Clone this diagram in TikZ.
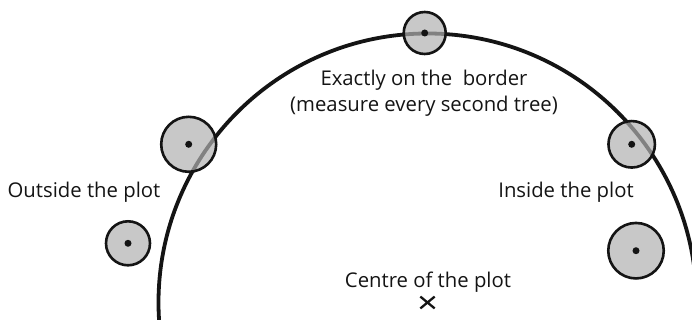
\documentclass[tikz,border=0pt]{standalone}
\usepackage{fontspec}
\setmainfont{Open Sans}
\usetikzlibrary{positioning,shapes.misc}
\definecolor{treefill}{RGB}{176,176,176}
\definecolor{inkblack}{RGB}{20,20,20}

\begin{document}
\begin{tikzpicture}[
    x=1pt, y=-1pt,
    plotline/.style   = {draw=inkblack, line width=3.8pt},
    tree/.style       = {circle, draw=inkblack, line width=2.6pt, fill=treefill,
                         fill opacity=0.7, inner sep=0pt},
    pith/.style       = {circle, fill=inkblack, inner sep=0pt, minimum size=7pt},
    centremark/.style = {cross out, draw=inkblack, line width=2.3pt, inner sep=0pt,
                         minimum width=12pt, minimum height=9.5pt},
    lbl/.style        = {font=\fontsize{20.3}{25.5}\selectfont, text=inkblack,
                         inner sep=0pt, align=center},
]
\useasboundingbox (0,0) rectangle (692,320);

% ---------------- plot centre and border ----------------
\node[centremark] (centre) at (427.5,302.5) {};
\draw[plotline] (centre.center) circle (269pt);

% ---------------- trees ----------------
\foreach \n/\x/\y/\d in {top/424.7/33/42, leftup/188.7/144.3/55,
                        rightup/631.7/144.3/46.5, leftlow/128/243.3/44,
                        rightlow/636/250.7/55.5} {
    \node[tree, minimum size=\d pt] (t\n) at (\x,\y) {};
    \node[pith] (p\n) at (t\n.center) {};
}

% ---------------- labels ----------------
\node[lbl, anchor=north] (border) at (424,70)
    {Exactly on the~ border\\(measure every second tree)};
\node[lbl, anchor=base] (outside) at (84,197) {Outside the plot};
\node[lbl, anchor=base] (inside) at (566,197) {Inside the plot};
\node[lbl, anchor=base] (centrelbl) at (428,287) {Centre of the plot};

\end{tikzpicture}
\end{document}
